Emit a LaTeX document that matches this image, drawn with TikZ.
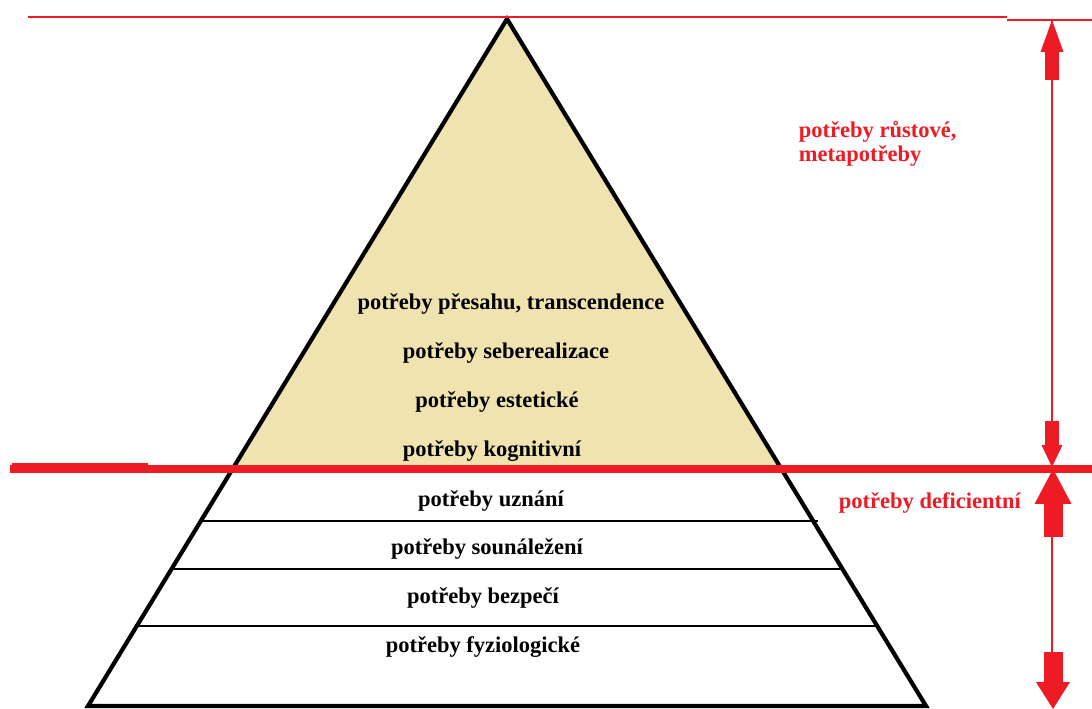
\documentclass[tikz,border=0pt]{standalone}
\usepackage{fontspec}
\setmainfont{Liberation Serif}
\usetikzlibrary{arrows.meta}
\definecolor{pred}{RGB}{237,28,36}
\definecolor{tan}{RGB}{239,228,176}
\begin{document}
\begin{tikzpicture}[x=0.025cm, y=-0.025cm,
		lvl/.style={font=\bfseries\fontsize{16}{17.7}\selectfont, anchor=base},
		redlbl/.style={lvl, text=pred, anchor=base west, align=left},
		stage/.style={draw=black, line width=2pt},
		blk/.style={pred, line width=#1}]
			\useasboundingbox (0,0) rectangle (1092,709);
			\coordinate (apex) at (507,19);
			\coordinate (bl) at (88,706);
			\coordinate (br) at (926,706);
			\fill[tan] (apex) -- (234,467) -- (780,467) -- cycle;
			\draw[stage] (203,521) -- (818,521);
			\draw[stage] (174,569) -- (841,569);
			\draw[stage] (138,626) -- (877,626);
			\draw[line width=3pt, line join=miter] (apex) -- (bl) -- (br) -- cycle;
			\draw[pred, line width=1.8pt] (28,17) -- (1007,17);
			\draw[pred, line width=1.8pt] (1007,20) -- (1092,20);
			\draw[pred, line width=1.4pt] (12,464) -- (148,464);
			\draw[pred, line width=5.7pt] (10,469) coordinate(L) -- (1092,469) coordinate(R);
			\draw[pred, line width=1.4pt] (1052,20) coordinate(T) -- (1052,700) coordinate(B);
			\draw[blk=10.6pt, -{Triangle[length=22.7pt, width=16.3pt, line width=0pt]}] (1052,80) -- (T);
			\draw[blk=10.6pt, -{Triangle[length=15.6pt, width=14.9pt, line width=0pt]}] (1052,421) -- (1052,467);
			\draw[blk=13.5pt, -{Triangle[length=24.8pt, width=26.2pt, line width=0pt]}] (1053,537) -- (1053,469);
			\draw[blk=13.5pt, -{Triangle[length=19.1pt, width=24.1pt, line width=0pt]}] (1053,652) -- (1053,709);
			\node[lvl] (transc) at (511,309) {potřeby přesahu, transcendence};
			\node[lvl] (seber) at (506,358) {potřeby seberealizace};
			\node[lvl] (estet) at (497,407) {potřeby estetické};
			\node[lvl] (kogn) at (492,456) {potřeby kognitivní};
			\node[lvl] (uzn) at (491,506) {potřeby uznání};
			\node[lvl] (soun) at (487,554) {potřeby sounáležení};
			\node[lvl] (bezp) at (483,603) {potřeby bezpečí};
			\node[lvl] (fyz) at (483,652) {potřeby fyziologické};
			\node[redlbl] (rust) at (794,162) {potřeby růstové,\\metapotřeby};
			\node[redlbl] (defic) at (834,508) {potřeby deficientní};
		\end{tikzpicture}
\end{document}
